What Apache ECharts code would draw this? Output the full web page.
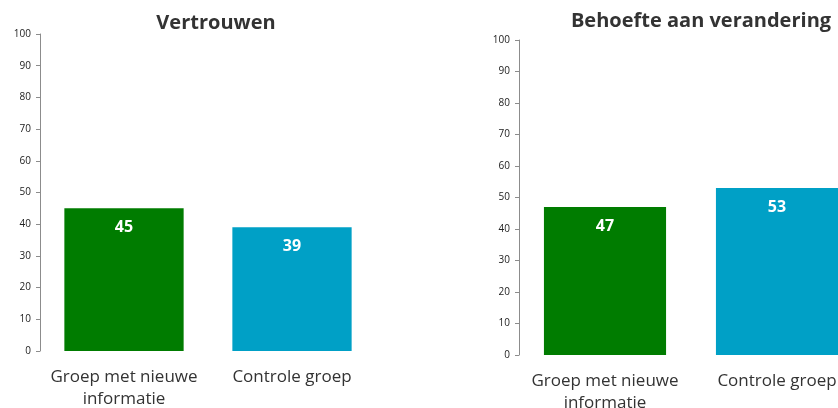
<!DOCTYPE html>
<html>
<head>
<meta charset="utf-8">
<script src="https://cdn.jsdelivr.net/npm/echarts@6/dist/echarts.min.js"></script>
<style>
  html, body { margin: 0; padding: 0; background: #fff; }
  #chart { width: 838px; height: 408px; }
</style>
</head>
<body>
<div id="chart"></div>
<script>
// Two survey outcomes, each comparing the informed group with the control group
const categories = ['Groep met nieuwe\ninformatie', 'Controle groep'];
const titles = ['Vertrouwen', 'Behoefte aan verandering'];
const trustValues = [45, 39];
const changeValues = [47, 53];
const yTicks = { min: 0, max: 100, interval: 10 };

const GREEN = '#007c00';
const BLUE = '#00a0c6';
const FONT = 'Open Sans';

const chart = echarts.init(document.getElementById('chart'));

function yAxis(gridIndex) {
  return {
    type: 'value', gridIndex,
    min: yTicks.min, max: yTicks.max, interval: yTicks.interval,
    splitLine: { show: false },
    axisLine: { show: true, lineStyle: { color: '#8c8c8c', width: 1 } },
    axisTick: { show: true, length: 4, lineStyle: { color: '#8c8c8c' } },
    axisLabel: { color: '#222', fontFamily: FONT, fontSize: 10, margin: 9 }
  };
}

function xAxis(gridIndex) {
  return {
    type: 'category', gridIndex, data: categories,
    axisLine: { show: false }, axisTick: { show: false },
    axisLabel: { color: '#333', fontFamily: FONT, fontSize: 17, lineHeight: 22, margin: 15, interval: 0 }
  };
}

function barSeries(idx, values) {
  return {
    type: 'bar', xAxisIndex: idx, yAxisIndex: idx,
    barWidth: '71%',
    data: values.map((v, i) => ({ value: v, itemStyle: { color: i === 0 ? GREEN : BLUE } })),
    label: {
      show: true, position: 'insideTop', distance: 11,
      color: '#fff', fontWeight: 'bold', fontFamily: FONT, fontSize: 16
    }
  };
}

chart.setOption({
  animation: false,
  title: [
    { text: titles[0], left: 211, top: 8, textAlign: 'center',
      textStyle: { fontFamily: FONT, fontWeight: 'bold', fontSize: 20, color: '#333' } },
    { text: titles[1], left: 696, top: 6, textAlign: 'center',
      textStyle: { fontFamily: FONT, fontWeight: 'bold', fontSize: 20, color: '#333' } }
  ],
  grid: [
    { left: 40, width: 336, top: 34, bottom: 57, outerBoundsMode: 'none' },
    { left: 519, width: 344, top: 40, bottom: 53, outerBoundsMode: 'none' }
  ],
  xAxis: [xAxis(0), xAxis(1)],
  yAxis: [yAxis(0), yAxis(1)],
  series: [barSeries(0, trustValues), barSeries(1, changeValues)]
});
</script>
</body>
</html>
